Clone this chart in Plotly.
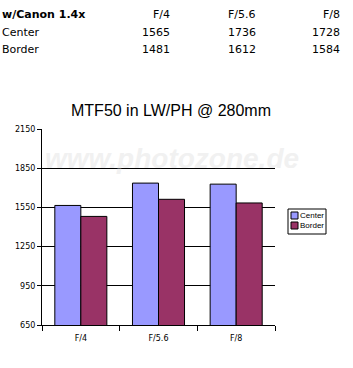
import plotly.graph_objects as go

categories = ["F/4", "F/5.6", "F/8"]
center = [1565, 1736, 1728]
border = [1481, 1612, 1584]
series_names = ["Center", "Border"]
series_colors = ["#9999FF", "#993366"]
table_header = "w/Canon 1.4x"
y_ticks = [650, 950, 1250, 1550, 1850, 2150]

W, H = 353, 368
L, R, T, B = 42, 78, 129, 43
PW, PH = W - L - R, H - T - B

def px(x):
    return (x - L) / PW

def py(y):
    return (H - B - y) / PH

fig = go.Figure()
for name, vals, col in zip(series_names, [center, border], series_colors):
    fig.add_trace(go.Bar(x=categories, y=vals, name=name, showlegend=False,
                         marker=dict(color=col, line=dict(color="black", width=1))))

font_fam = "DejaVu Sans, Liberation Sans, Arial"
ann = []
shapes = []
# watermark
ann.append(dict(text="<b><i>www.photozone.de</i></b>", x=px(172), y=py(158), xref="paper", yref="paper",
                showarrow=False, font=dict(size=28, color="#d8d8d8", family="Liberation Sans"),
                opacity=0.35, xanchor="center", yanchor="middle"))
# table
rows = [(table_header, categories, 15, True),
        (series_names[0], [str(v) for v in center], 33, False),
        (series_names[1], [str(v) for v in border], 50, False)]
col_right = [172, 258, 342]
for label, vals, yy, bold in rows:
    ann.append(dict(text=f"<b>{label}</b>" if bold else label, x=px(0), y=py(yy),
                    xref="paper", yref="paper", showarrow=False, xanchor="left", yanchor="middle",
                    font=dict(size=11, color="black", family=font_fam)))
    for v, cx in zip(vals, col_right):
        ann.append(dict(text=v, x=px(cx), y=py(yy), xref="paper", yref="paper", showarrow=False,
                        xanchor="right", yanchor="middle",
                        font=dict(size=11, color="black", family=font_fam)))

# manual legend
shapes.append(dict(type="rect", xref="paper", yref="paper", x0=px(288), x1=px(326),
                   y0=py(209), y1=py(234), line=dict(color="black", width=1), fillcolor="white"))
for i, (name, col) in enumerate(zip(series_names, series_colors)):
    top = 212 + i * 10
    shapes.append(dict(type="rect", xref="paper", yref="paper", x0=px(291), x1=px(298),
                       y0=py(top), y1=py(top + 7), line=dict(color="black", width=1), fillcolor=col))
    ann.append(dict(text=name, x=px(298), y=py(top + 3.5), xref="paper", yref="paper",
                    showarrow=False, xanchor="left", yanchor="middle",
                    font=dict(size=8, color="black", family="Liberation Sans, Arial")))

fig.update_layout(
    width=W, height=H,
    margin=dict(l=L, r=R, t=T, b=B),
    paper_bgcolor="white", plot_bgcolor="white",
    title=dict(text="MTF50 in LW/PH @ 280mm", x=px(171), xref="paper", y=1 - 110 / H,
               xanchor="center", yanchor="middle",
               font=dict(size=16, color="black", family="Liberation Sans, Arial")),
    barmode="group", bargap=0.33, bargroupgap=0,
    showlegend=False,
    annotations=ann, shapes=shapes,
    font=dict(family=font_fam, color="black"),
)
fig.update_xaxes(showline=True, linecolor="black", linewidth=1, ticks="outside",
                 tickson="boundaries", ticklen=5, tickcolor="black", ticklabelstandoff=5,
                 tickfont=dict(size=8, color="black"), showgrid=False)
fig.update_yaxes(range=[650, 2150], tickvals=y_ticks, showline=True, linecolor="black",
                 linewidth=1, ticks="outside", ticklen=4, tickcolor="black",
                 showgrid=True, gridcolor="black", gridwidth=1, zeroline=False,
                 tickfont=dict(size=8, color="black"))

fig.write_html("out.html")
